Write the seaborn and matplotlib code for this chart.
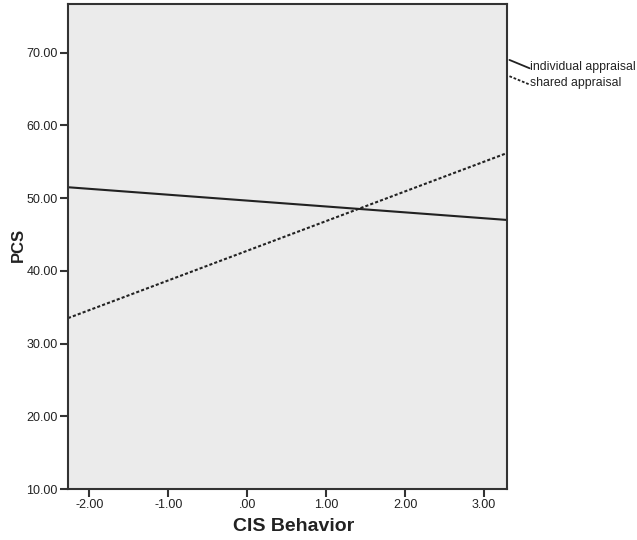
import matplotlib
matplotlib.use("Agg")
import matplotlib.pyplot as plt
import seaborn as sns
import pandas as pd
import numpy as np

# Data
x_vals = [-2.27, 3.29]
individual = [51.5, 47.0]
shared = [33.5, 56.2]
series_names = ["individual appraisal", "shared appraisal"]
x_ticks = [-2, -1, 0, 1, 2, 3]
x_tick_labels = ["-2.00", "-1.00", ".00", "1.00", "2.00", "3.00"]
y_ticks = [10, 20, 30, 40, 50, 60, 70]
y_tick_labels = ["10.00", "20.00", "30.00", "40.00", "50.00", "60.00", "70.00"]

df = pd.DataFrame({
    "x": x_vals * 2,
    "y": individual + shared,
    "group": [series_names[0]] * 2 + [series_names[1]] * 2,
})

sns.set_style("white")
plt.rcParams['font.family'] = ['Liberation Sans', 'DejaVu Sans']

fig = plt.figure(figsize=(6.37, 5.40), dpi=100)
ax = fig.add_axes([68/637, 1-489/540, (507-68)/637, (489-4)/540])
ax.set_facecolor("#ebebeb")

sns.lineplot(data=df, x="x", y="y", hue="group", style="group",
             palette=["#222222", "#222222"],
             dashes={series_names[0]: "", series_names[1]: (1.5, 1.0)},
             linewidth=1.5, ax=ax, legend=False)

ax.set_xlim(-2.27, 3.29)
ax.set_ylim(10, 76.7)
ax.set_xticks(x_ticks)
ax.set_xticklabels(x_tick_labels)
ax.set_yticks(y_ticks)
ax.set_yticklabels(y_tick_labels)
ax.tick_params(axis="both", which="major", bottom=True, left=True, top=False, right=False,
               direction="out", length=6, width=1.5, color="#333333",
               labelsize=9, labelcolor="#222222", pad=1.5)
for s in ax.spines.values():
    s.set_color("#333333")
    s.set_linewidth(1.5)
    s.set_visible(True)

ax.set_xlabel("CIS Behavior", fontsize=14, fontweight="bold", color="#222222")
ax.set_ylabel("PCS", fontsize=12, fontweight="bold", color="#222222")
ax.xaxis.set_label_coords((294 - 68) / 439, -(518 - 489) / 485)
ax.yaxis.set_label_coords(-(68 - 26) / 439, (489 - 245) / 485)

h = [plt.Line2D([0, 1], [0, 0], color="#222222", lw=1.3),
     plt.Line2D([0, 1], [0, 0], color="#222222", lw=1.3, dashes=(1.5, 1.0))]
leg = ax.legend(h, series_names, loc="upper left", bbox_to_anchor=(1.0, 0.888),
                frameon=False, fontsize=8.8, handlelength=1.65, handletextpad=0.05,
                labelspacing=0.35, borderaxespad=0.1, borderpad=0.1)
for t in leg.get_texts():
    t.set_color("#222222")
for ln in leg.get_lines():
    yd = np.asarray(ln.get_ydata(), dtype=float)
    n = len(yd)
    if n >= 2:
        ln.set_ydata(yd + np.linspace(4.0, -2.0, n))

fig.savefig("out.png", dpi=100)
